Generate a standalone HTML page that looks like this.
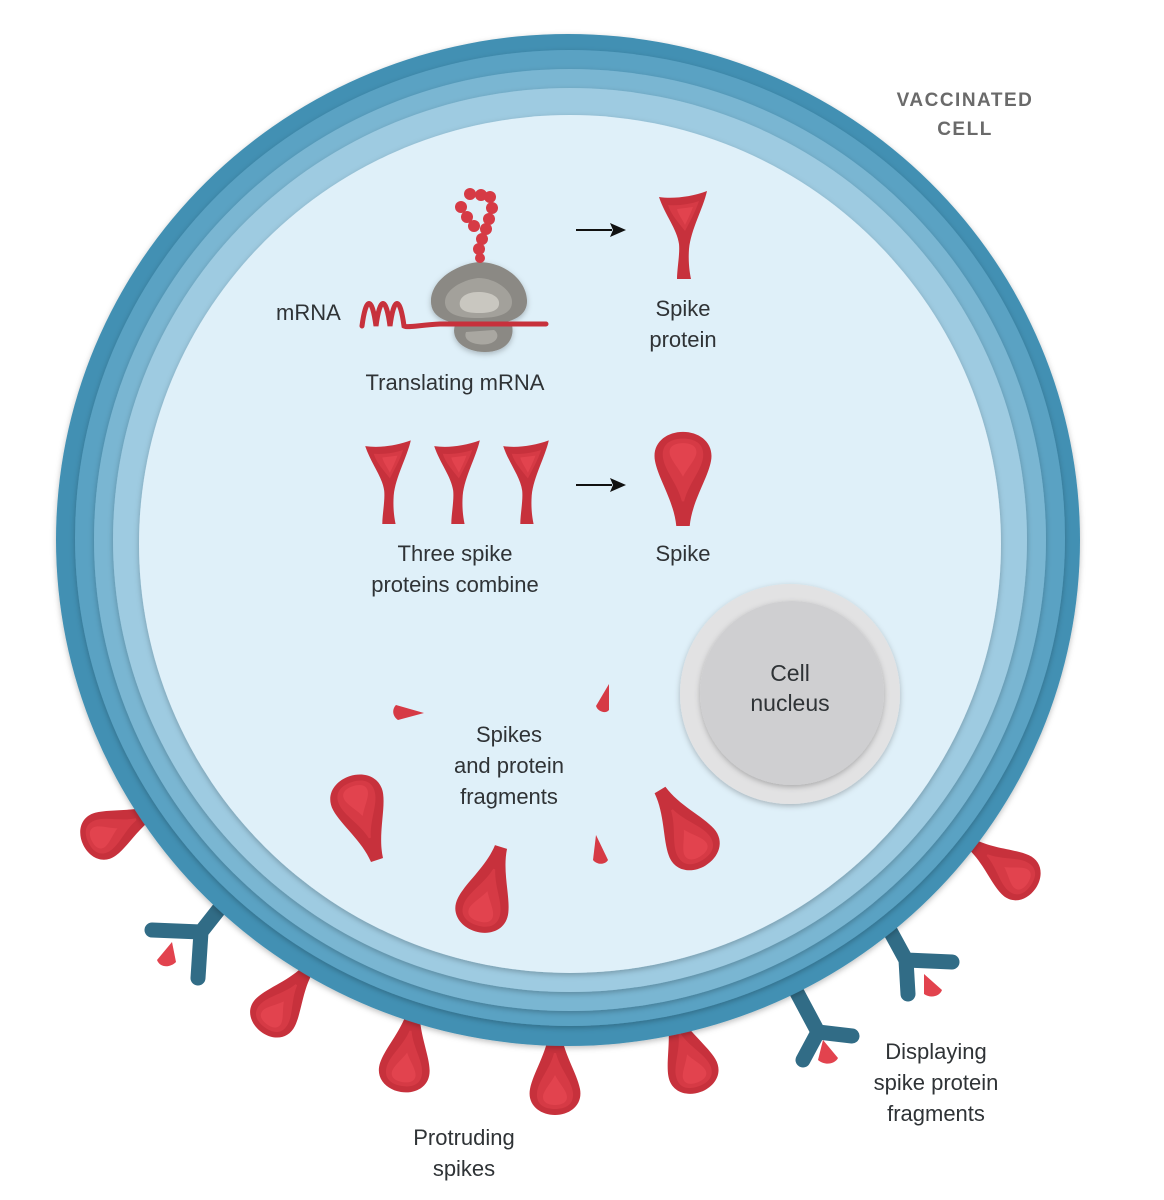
<!DOCTYPE html>
<html><head><meta charset="utf-8"><style>
html,body{margin:0;padding:0;background:#fff;}
svg{display:block;}
text{font-family:"Liberation Sans",sans-serif;fill:#2f3336;}
</style></head><body>
<svg width="1164" height="1200" viewBox="0 0 1164 1200" xmlns="http://www.w3.org/2000/svg">
<defs>
<g id="sp">
<path d="M-6,-25 L6,-25 L6,0 C8,22 22,42 25,58 C28,74 15,84 0,84 C-15,84 -28,74 -25,58 C-22,42 -8,22 -6,0 Z" fill="#c7313c"/>
<path d="M-1,22 L1,22 C5,38 17,50 18,62 C19,74 10,78 0,78 C-10,78 -19,74 -18,62 C-17,50 -5,38 -1,22 Z" fill="#d63a45"/>
<path d="M0,44 C4,52 12,60 12,66 C12,72 6,74 0,74 C-6,74 -12,72 -12,66 C-12,60 -4,52 0,44 Z" fill="#e2434e"/>
</g>
<g id="spi">
<path d="M-6,0 L6,0 C8,22 22,42 25,58 C28,74 15,84 0,84 C-15,84 -28,74 -25,58 C-22,42 -8,22 -6,0 Z" fill="#c7313c"/>
<path d="M-1,22 L1,22 C5,38 17,50 18,62 C19,74 10,78 0,78 C-10,78 -19,74 -18,62 C-17,50 -5,38 -1,22 Z" fill="#d63a45"/>
<path d="M0,44 C4,52 12,60 12,66 C12,72 6,74 0,74 C-6,74 -12,72 -12,66 C-12,60 -4,52 0,44 Z" fill="#e2434e"/>
</g>
<g id="pr">
<path d="M-24,-2 C-10,0 8,-2 24,-8 C20,10 8,30 6,50 C5,65 7,75 8,80 L-6,80 C-6,70 -3,55 -4,45 C-6,30 -18,16 -24,-2 Z" fill="#c7313c"/>
<path d="M-15,6 C-5,7 8,5 16,2 C12,14 6,24 2,32 C-4,24 -12,16 -15,6 Z" fill="#d63a45"/>
<path d="M-6,10 L10,8 C7,16 4,22 2,26 C-1,20 -5,15 -6,10 Z" fill="#e2434e"/>
</g>
<filter id="sh" x="-10%" y="-10%" width="120%" height="120%"><feDropShadow dx="0" dy="2" stdDeviation="3" flood-color="#000" flood-opacity="0.25"/></filter>
</defs>

<!-- protruding spikes behind membrane -->
<use href="#sp" transform="translate(155,810) rotate(64) scale(0.95)"/>
<use href="#sp" transform="translate(970,843) rotate(-55) scale(0.95)"/>
<use href="#sp" transform="translate(309,968) rotate(37) scale(0.95)"/>
<use href="#sp" transform="translate(414,1009) rotate(9)"/>
<use href="#sp" transform="translate(555,1031) rotate(0)"/>
<use href="#sp" transform="translate(672,1013) rotate(-20)"/>
<!-- antibodies -->
<g fill="none" stroke="#316c86" stroke-width="15" stroke-linecap="round" stroke-linejoin="round">
<path d="M238,885 L201,932 L152,930 M201,932 L198,978"/>
<path d="M786,972 L818,1032 L803,1060 M818,1032 L852,1036"/>
<path d="M876,905 L906,960 L908,994 M906,960 L952,962"/>
</g>
<path d="M172,942 L157,960 C160,968 170,968 176,962 Z" fill="#e2434e"/>
<path d="M823,1040 L818,1060 C825,1066 835,1064 838,1058 Z" fill="#e2434e"/>
<path d="M924,974 L924,994 C931,999 940,996 942,990 Z" fill="#e2434e"/>

<!-- membrane rings -->
<ellipse cx="568" cy="540" rx="512" ry="506" fill="#4290b3" filter="url(#sh)"/>
<ellipse cx="570" cy="538" rx="495" ry="488" fill="#5aa2c3" filter="url(#sh)"/>
<ellipse cx="570" cy="540" rx="476" ry="471" fill="#7ab6d2" filter="url(#sh)"/>
<ellipse cx="570" cy="540" rx="457" ry="452" fill="#9ecbe1" filter="url(#sh)"/>
<ellipse cx="570" cy="544" rx="431" ry="429" fill="#dff0f9" filter="url(#sh)"/>

<!-- nucleus -->
<circle cx="790" cy="694" r="110" fill="#e2e2e3" filter="url(#sh)"/>
<circle cx="792" cy="693" r="92" fill="#cfcfd1" filter="url(#sh)"/>
<text x="790" y="681" font-size="23" text-anchor="middle">Cell</text>
<text x="790" y="711" font-size="23" text-anchor="middle">nucleus</text>

<!-- ribosome -->
<g filter="url(#sh)">
<path d="M455,325 C450,340 465,352 485,352 C505,352 515,340 512,325 Z" fill="#8b8984"/>
<path d="M466,332 C462,342 478,346 488,344 C498,342 500,334 494,330 Z" fill="#a9a7a1"/>
<path d="M478,262 C455,265 432,280 431,300 C430,318 448,325 478,325 C508,325 528,318 527,300 C526,280 505,262 478,262 Z" fill="#8b8984"/>
<path d="M478,278 C462,280 444,290 445,303 C446,315 460,318 478,318 C498,318 512,314 512,302 C512,290 495,278 478,278 Z" fill="#a3a19b"/>
<path d="M478,292 C466,292 458,298 460,306 C462,312 470,313 480,313 C492,313 500,310 499,302 C498,296 490,292 478,292 Z" fill="#c9c7c0"/>
</g>
<!-- mRNA -->
<path d="M362,326 C366,296 372,296 376,326 C380,296 386,296 390,326 C394,296 400,296 404,326 C408,328 420,325 440,324 L546,324" fill="none" stroke="#c7313c" stroke-width="5" stroke-linecap="round"/>
<!-- amino chain -->
<g fill="#d63a45">
<circle cx="480" cy="258" r="5"/><circle cx="479" cy="249" r="6"/><circle cx="482" cy="239" r="6"/><circle cx="486" cy="229" r="6"/><circle cx="489" cy="219" r="6"/><circle cx="492" cy="208" r="6"/><circle cx="490" cy="197" r="6"/>
<circle cx="481" cy="195" r="6"/><circle cx="470" cy="194" r="6"/><circle cx="461" cy="207" r="6"/><circle cx="467" cy="217" r="6"/><circle cx="474" cy="226" r="6"/>
</g>
<text x="276" y="320" font-size="22">mRNA</text>
<text x="455" y="390" font-size="22" text-anchor="middle">Translating mRNA</text>

<!-- arrows -->
<g stroke="#111" stroke-width="2"><line x1="576" y1="230" x2="612" y2="230"/><line x1="576" y1="485" x2="612" y2="485"/></g>
<path d="M626,230 L610,223 L613,230 L610,237 Z M626,485 L610,478 L613,485 L610,492 Z" fill="#111"/>

<!-- spike protein -->
<use href="#pr" transform="translate(683,199)"/>
<text x="683" y="316" font-size="22" text-anchor="middle">Spike</text>
<text x="683" y="347" font-size="22" text-anchor="middle">protein</text>

<use href="#pr" transform="translate(388,448) scale(0.95)"/>
<use href="#pr" transform="translate(457,448) scale(0.95)"/>
<use href="#pr" transform="translate(526,448) scale(0.95)"/>
<text x="455" y="561" font-size="22" text-anchor="middle">Three spike</text>
<text x="455" y="592" font-size="22" text-anchor="middle">proteins combine</text>

<use href="#spi" transform="translate(683,526) rotate(180) scale(1.12)"/>
<text x="683" y="561" font-size="22" text-anchor="middle">Spike</text>

<!-- fragments -->
<path d="M396,705 L424,713 L398,720 C392,716 392,709 396,705 Z" fill="#d63a45"/>
<path d="M609,684 L596,706 C598,712 606,714 609,710 Z" fill="#d63a45"/>
<path d="M596,835 L593,860 C598,866 606,864 608,860 Z" fill="#d63a45"/>
<text x="509" y="742" font-size="22" text-anchor="middle">Spikes</text>
<text x="509" y="773" font-size="22" text-anchor="middle">and protein</text>
<text x="509" y="804" font-size="22" text-anchor="middle">fragments</text>

<!-- inner spikes -->
<use href="#spi" transform="translate(377,860) rotate(162) scale(1.05)"/>
<use href="#spi" transform="translate(501,847) rotate(17) scale(1.05)"/>
<use href="#spi" transform="translate(660,790) rotate(-31) scale(1.05)"/>

<!-- labels -->
<text x="965" y="106" font-size="19" font-weight="bold" text-anchor="middle" letter-spacing="1.5" style="fill:#6a6a6a">VACCINATED</text>
<text x="965" y="135" font-size="19" font-weight="bold" text-anchor="middle" letter-spacing="1.5" style="fill:#6a6a6a">CELL</text>
<text x="464" y="1145" font-size="22" text-anchor="middle">Protruding</text>
<text x="464" y="1176" font-size="22" text-anchor="middle">spikes</text>
<text x="936" y="1059" font-size="22" text-anchor="middle">Displaying</text>
<text x="936" y="1090" font-size="22" text-anchor="middle">spike protein</text>
<text x="936" y="1121" font-size="22" text-anchor="middle">fragments</text>
</svg>
</body></html>
